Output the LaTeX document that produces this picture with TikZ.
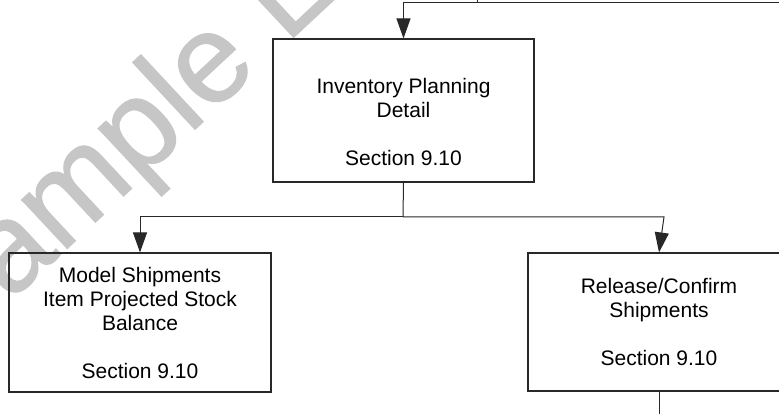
\documentclass[tikz,border=0pt]{standalone}
\usepackage{fontspec}
\setmainfont{Liberation Sans}
\newfontfamily\wmfont[FakeBold=1]{Liberation Sans}
\usetikzlibrary{arrows.meta}
\definecolor{wm}{RGB}{198,198,198}
\definecolor{ln}{RGB}{40,40,40}
\tikzset{
  box/.style={draw=ln, line width=1.1pt, rectangle, inner sep=0pt, align=center,
    font=\fontsize{21}{24}\selectfont, text=black},
  conn/.style={draw=ln, line width=1pt},
  arr/.style={conn, -{Triangle[length=20pt,width=14pt]}},
}
\begin{document}
\begin{tikzpicture}[x=1pt,y=-1pt]
\useasboundingbox (0,0) rectangle (779,414);
% watermark
\node[text=wm, rotate=43, anchor=base west, inner sep=0pt,
      font=\wmfont\fontsize{126}{126}\selectfont] (wmark) at (-52,359.6) {Sample L};
% boxes
\node[box, minimum width=261pt, minimum height=143pt] (ib) at (403.5,110.5)
  {\vphantom{I}\\Inventory Planning\\Detail\\[24pt]Section 9.10};
\node[box, minimum width=262pt, minimum height=139pt] (mb) at (140,322.5)
  {Model Shipments\\Item Projected Stock\\Balance\\[24pt]Section 9.10};
\node[box, minimum width=262pt, minimum height=138pt] (rb) at (659,322)
  {Release/Confirm\\Shipments\\[24pt]Section 9.10};
% incoming from top
\coordinate (topin) at (790,3);
\coordinate (tick) at (477,-5);
\coordinate (tickb) at (477,3);
\draw[conn] (tick) -- (tickb);
\draw[arr] (topin) -| (ib.north);
% fan-out
\coordinate (j) at (403,217);
\coordinate (jr) at (664,217);
\draw[conn] (ib.south) -- (j);
\draw[arr] (j) -| (mb.north);
\draw[arr] (j) -- (jr) -- (rb.north);
% outgoing at bottom
\coordinate (botout) at (659,420);
\draw[conn] (rb.south) -- (botout);
\end{tikzpicture}
\end{document}
